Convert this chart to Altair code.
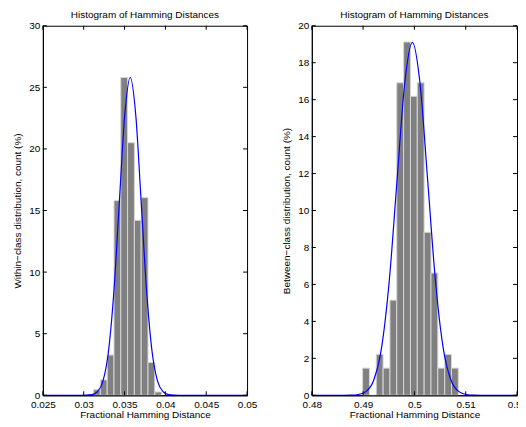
import altair as alt
import pandas as pd

FONT = "Liberation Sans"

# ---- Left panel: within-class ----
left_bin_lo = [0.03121, 0.03204, 0.03288, 0.03371, 0.03454, 0.03537, 0.03620, 0.03704, 0.03787, 0.03870]
left_bin_pct = [0.45, 1.25, 3.27, 15.8, 25.8, 20.5, 14.2, 16.05, 2.66, 0.27]
left_bin_width = 0.000832
left_curve_x = [0.025, 0.02967, 0.03034, 0.03101, 0.03168, 0.03235, 0.03302, 0.03369, 0.03436, 0.03503,
                0.0357, 0.03637, 0.03704, 0.03771, 0.03838, 0.03905, 0.03972, 0.04039, 0.04106, 0.04173, 0.05]
left_curve_y = [0.0, 0.001, 0.009, 0.056, 0.29, 1.13, 3.49, 8.38, 15.65, 22.77,
                25.8, 22.77, 15.65, 8.38, 3.49, 1.13, 0.29, 0.056, 0.009, 0.001, 0.0]
left_xticks = [0.025, 0.03, 0.035, 0.04, 0.045, 0.05]
left_yticks = [0, 5, 10, 15, 20, 25, 30]

# ---- Right panel: between-class ----
right_bin_lo = [0.48990, 0.49123, 0.49256, 0.49390, 0.49523, 0.49656, 0.49790,
                0.49923, 0.50056, 0.50190, 0.50323, 0.50456, 0.50590, 0.50723]
right_bin_pct = [1.47, 0.0, 2.21, 1.47, 5.15, 16.91, 19.12, 16.18, 16.91, 8.82, 6.62, 1.47, 2.21, 1.47]
right_bin_width = 0.001333
right_curve_x = [0.48, 0.4861, 0.4876, 0.4891, 0.4906, 0.4921, 0.4936, 0.4951, 0.4966, 0.4981,
                 0.4996, 0.5011, 0.5026, 0.5041, 0.5056, 0.5071, 0.5086, 0.5101, 0.5116, 0.5131, 0.52]
right_curve_y = [0.0, 0.0008, 0.0064, 0.042, 0.21, 0.84, 2.58, 6.20, 11.58, 16.86,
                 19.1, 16.86, 11.58, 6.20, 2.58, 0.84, 0.21, 0.042, 0.0064, 0.0008, 0.0]
right_xticks = [0.48, 0.49, 0.5, 0.51, 0.52]
right_yticks = [0, 2, 4, 6, 8, 10, 12, 14, 16, 18, 20]

TITLE = "Histogram of Hamming Distances"
XTITLE = "Fractional Hamming Distance"


def panel(bin_lo, bin_pct, bw, cx, cy, xdom, ydom, xticks, yticks, ytitle, W, H):
    bars_df = pd.DataFrame({"lo": bin_lo, "pct": bin_pct})
    bars_df["hi"] = bars_df["lo"] + bw
    curve_df = pd.DataFrame({"x": cx, "y": cy})
    xt_df = pd.DataFrame({"v": xticks})
    yt_df = pd.DataFrame({"v": yticks})

    xs = alt.Scale(domain=xdom, nice=False, zero=False)
    ys = alt.Scale(domain=ydom, nice=False, zero=False)
    xaxis = alt.Axis(values=xticks, format="~g", title=XTITLE, ticks=False, grid=False,
                     labelPadding=4, titlePadding=0, labelOverlap=False, zindex=1,
                     domainColor="black", labelFlush=False)
    yaxis = alt.Axis(values=yticks, format="~g", title=ytitle, ticks=False, grid=False,
                     labelPadding=3, titlePadding=6, labelOverlap=False, zindex=1,
                     domainColor="black", labelFlush=False)

    bars = alt.Chart(bars_df).mark_rect(color="#808080", stroke="#d6d6d6", strokeWidth=1).encode(
        x=alt.X("lo:Q", scale=xs, axis=xaxis), x2="hi",
        y=alt.Y("pct:Q", scale=ys, axis=yaxis), y2=alt.datum(0))
    curve = alt.Chart(curve_df).mark_line(color="#0000ff", strokeWidth=1.2, interpolate="monotone").encode(
        x=alt.X("x:Q", scale=xs, axis=xaxis), y=alt.Y("y:Q", scale=ys, axis=yaxis))
    tb = alt.Chart(xt_df).mark_rule(color="black", strokeWidth=1).encode(
        x=alt.X("v:Q", scale=xs, axis=xaxis), y=alt.value(H), y2=alt.value(H - 4))
    tt = alt.Chart(xt_df).mark_rule(color="black", strokeWidth=1).encode(
        x=alt.X("v:Q", scale=xs, axis=xaxis), y=alt.value(0), y2=alt.value(4))
    tl = alt.Chart(yt_df).mark_rule(color="black", strokeWidth=1).encode(
        y=alt.Y("v:Q", scale=ys, axis=yaxis), x=alt.value(0), x2=alt.value(4))
    tr = alt.Chart(yt_df).mark_rule(color="black", strokeWidth=1).encode(
        y=alt.Y("v:Q", scale=ys, axis=yaxis), x=alt.value(W), x2=alt.value(W - 4))

    return alt.layer(bars, curve, tb, tt, tl, tr).properties(
        width=W, height=H,
        title=alt.TitleParams(TITLE, fontSize=10, font=FONT, fontWeight="normal",
                              color="black", offset=1, anchor="middle", frame="group"))


H = 371
left = panel(left_bin_lo, left_bin_pct, left_bin_width, left_curve_x, left_curve_y,
             [0.025, 0.05], [0, 30], left_xticks, left_yticks,
             "Within\u2212class distribution, count (%)", 205, H)
right = panel(right_bin_lo, right_bin_pct, right_bin_width, right_curve_x, right_curve_y,
              [0.48, 0.52], [0, 20], right_xticks, right_yticks,
              "Between\u2212class distribution, count (%)", 206, H)

chart = alt.hconcat(left, right, spacing=65, bounds="flush").properties(
    padding={"left": 4, "top": 0, "right": -10, "bottom": -1}
).configure_view(stroke="black", strokeWidth=1).configure_axis(
    labelFont=FONT, titleFont=FONT, labelFontSize=10, titleFontSize=10,
    labelColor="black", titleColor="black", titleFontWeight="normal"
)

chart.save("out.html", embed_options={"renderer": "svg", "actions": False})
